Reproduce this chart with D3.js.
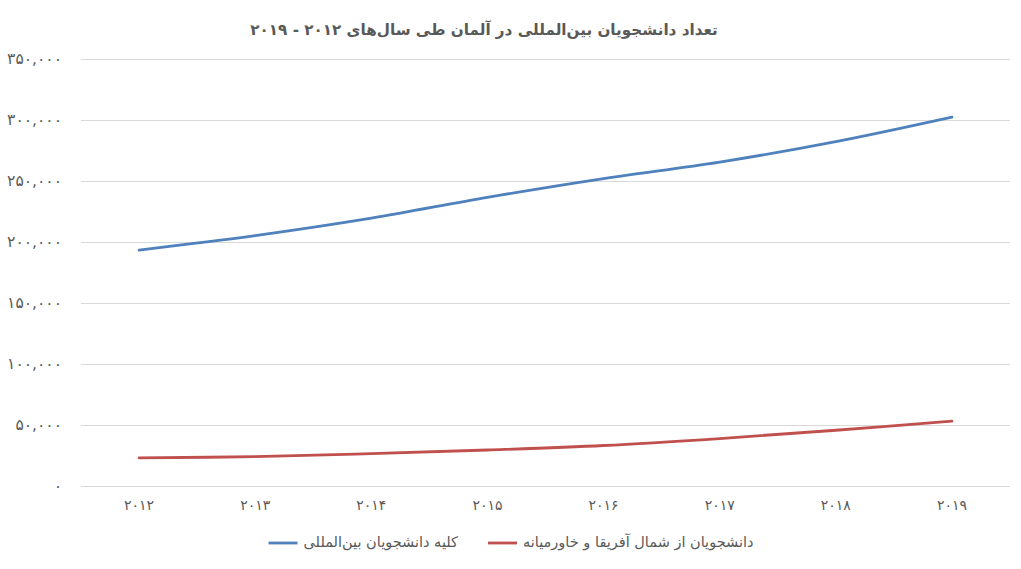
<!DOCTYPE html>
<html>
<head>
<meta charset="utf-8">
<script src="https://cdn.jsdelivr.net/npm/d3@7"></script>
<style>
  html, body { margin: 0; padding: 0; background: #fff; }
  svg { display: block; font-family: "DejaVu Sans", sans-serif; }
</style>
</head>
<body>
<div id="chart"></div>
<script>
// International students in Germany 2012-2019

const TITLE = "تعداد دانشجویان بین‌المللی در آلمان طی سال‌های ۲۰۱۲ - ۲۰۱۹";

const years = ["2012", "2013", "2014", "2015", "2016", "2017", "2018", "2019"];
const totalStudents = [193400, 205200, 219500, 236600, 252000, 265500, 282300, 302400];
const menaStudents = [23000, 24100, 26500, 29500, 33200, 38900, 45700, 53200];
const yTicks = [0, 50000, 100000, 150000, 200000, 250000, 300000, 350000];

const seriesNames = ["کلیه دانشجویان بین‌المللی", "دانشجویان از شمال آفریقا و خاورمیانه"];
const seriesColors = ["#4F81BD", "#C0504D"];

const W = 1021;
const H = 569;
const TEXT_COLOR = "#595959";
const GRID_COLOR = "#d9d9d9";

const FA_DIGITS = "۰۱۲۳۴۵۶۷۸۹";
function toFa(s) {
  return String(s).replace(/[0-9]/g, c => FA_DIGITS[+c]);
}

const svg = d3.select("#chart")
  .append("svg")
  .attr("width", W)
  .attr("height", H)
  .attr("viewBox", `0 0 ${W} ${H}`);

// plot area
const plotX0 = 81, plotX1 = 1010;
const plotY0 = 59, plotY1 = 486;

const x = d3.scalePoint().domain(years).range([plotX0, plotX1]).padding(0.5);
const y = d3.scaleLinear().domain([0, 350000]).range([plotY1, plotY0]);

// title
svg.append("text")
  .attr("x", 484)
  .attr("y", 35)
  .attr("direction", "rtl")
  .attr("text-anchor", "middle")
  .attr("font-size", 15.2)
  .attr("font-weight", "bold")
  .attr("fill", TEXT_COLOR)
  .text(TITLE);

// gridlines
svg.append("g")
  .selectAll("line")
  .data(yTicks)
  .enter()
  .append("line")
  .attr("x1", plotX0)
  .attr("x2", plotX1)
  .attr("y1", d => Math.round(y(d)) + 0.5)
  .attr("y2", d => Math.round(y(d)) + 0.5)
  .attr("stroke", GRID_COLOR)
  .attr("stroke-width", 1);

// y axis labels
const fmt = d3.format(",");
svg.append("g")
  .selectAll("text")
  .data(yTicks)
  .enter()
  .append("text")
  .attr("x", 62)
  .attr("y", d => y(d))
  .attr("dy", "0.35em")
  .attr("text-anchor", "end")
  .attr("font-size", 15.5)
  .attr("fill", TEXT_COLOR)
  .text(d => toFa(fmt(d)));

// x axis labels
svg.append("g")
  .selectAll("text")
  .data(years)
  .enter()
  .append("text")
  .attr("x", d => x(d))
  .attr("y", 510)
  .attr("text-anchor", "middle")
  .attr("font-size", 14)
  .attr("fill", TEXT_COLOR)
  .text(d => toFa(d));

// lines
const line = d3.line()
  .x(d => x(d.year))
  .y(d => y(d.value))
  .curve(d3.curveCatmullRom.alpha(0.5));

const series = [totalStudents, menaStudents].map((vals, i) => ({
  name: seriesNames[i],
  color: seriesColors[i],
  points: years.map((yr, j) => ({ year: yr, value: vals[j] }))
}));

svg.append("g")
  .selectAll("path")
  .data(series)
  .enter()
  .append("path")
  .attr("d", d => line(d.points))
  .attr("fill", "none")
  .attr("stroke", d => d.color)
  .attr("stroke-width", 2.8)
  .attr("stroke-linecap", "round");

// legend: swatch on the left of each label, items laid out left to right
const legend = svg.append("g").attr("class", "legend");
const legendY = 543;
const swatchW = 29;
const gap = 6;
const itemGap = 30;

const items = series.map(s => {
  const g = legend.append("g");
  g.append("line")
    .attr("y1", legendY)
    .attr("y2", legendY)
    .attr("stroke", s.color)
    .attr("stroke-width", 2.8);
  const t = g.append("text")
    .attr("y", legendY)
    .attr("dy", "0.3em")
    .attr("direction", "rtl")
    .attr("text-anchor", "start")
    .attr("font-size", 14.5)
    .attr("fill", TEXT_COLOR)
    .text(s.name);
  return { g, t, w: t.node().getComputedTextLength() };
});

const totalW = d3.sum(items, d => swatchW + gap + d.w) + itemGap * (items.length - 1);
let cx = 511 - totalW / 2;
items.forEach(it => {
  it.g.select("line").attr("x1", cx).attr("x2", cx + swatchW);
  it.t.attr("x", cx + swatchW + gap + it.w);
  cx += swatchW + gap + it.w + itemGap;
});
</script>
</body>
</html>
